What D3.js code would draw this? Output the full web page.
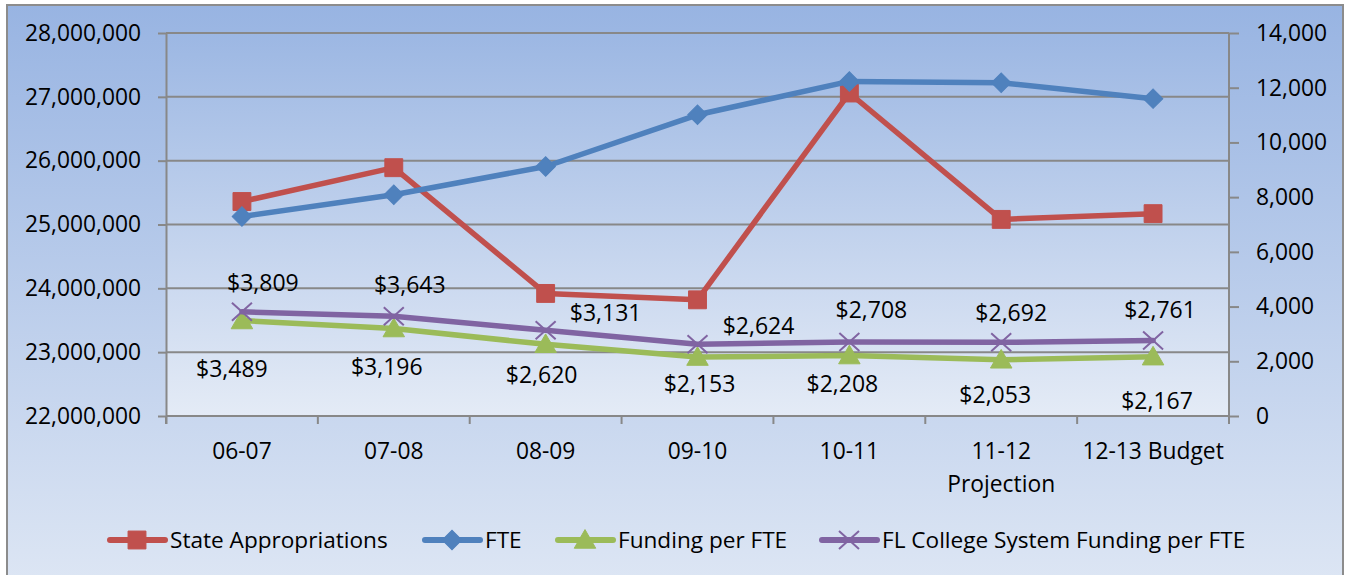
<!DOCTYPE html>
<html>
<head>
<meta charset="utf-8">
<script src="https://d3js.org/d3.v7.min.js"></script>
<style>
  body { margin: 0; background: #fff; }
  svg text { font-family: 'Open Sans', sans-serif; fill: #000; }
  .tick text { font-size: 22.8px; }
  .lbl { font-size: 23px; }
  .leg { font-size: 22.6px; }
</style>
</head>
<body>
<svg id="chart" width="1347" height="575"></svg>
<script>
// --- data ---
const years = ["06-07", "07-08", "08-09", "09-10", "10-11", "11-12 Projection", "12-13 Budget"];
const stateAppropriations = [25360000, 25890000, 23920000, 23820000, 27060000, 25080000, 25170000];
const fte = [7290, 8090, 9120, 11010, 12230, 12180, 11600];
const fundingPerFte = [3489, 3196, 2620, 2153, 2208, 2053, 2167];
const flCollegeFundingPerFte = [3809, 3643, 3131, 2624, 2708, 2692, 2761];
const leftTicks = [22000000, 23000000, 24000000, 25000000, 26000000, 27000000, 28000000];
const rightTicks = [0, 2000, 4000, 6000, 8000, 10000, 12000, 14000];

// label nudges (px) relative to the point, as placed in the original
const flNudge = [[21, -29], [16, -32], [60, -18], [61, -18], [22, -32], [10, -30], [7, -31]];
const fundNudge = [[-10, 48], [-7, 38], [-4, 30], [2, 27], [-7, 28], [-6, 35], [4, 44]];

const svg = d3.select("#chart");
const margin = { top: 33, right: 118, bottom: 159, left: 166 };
const W = 1347, H = 575;
const x0 = margin.left, x1 = W - margin.right, y0 = margin.top, y1 = H - margin.bottom;

const defs = svg.append("defs");
const g1 = defs.append("linearGradient").attr("id", "bgOuter").attr("x1", 0).attr("y1", 0).attr("x2", 0).attr("y2", 1);
g1.append("stop").attr("offset", "0%").attr("stop-color", "#98b4e2");
g1.append("stop").attr("offset", "100%").attr("stop-color", "#dde6f4");
const g2 = defs.append("linearGradient").attr("id", "bgPlot").attr("x1", 0).attr("y1", 0).attr("x2", 0).attr("y2", 1);
g2.append("stop").attr("offset", "0%").attr("stop-color", "#9cb7e3");
g2.append("stop").attr("offset", "100%").attr("stop-color", "#e4ebf6");

svg.append("rect").attr("x", 7).attr("y", 5).attr("width", 1336).attr("height", 580)
  .attr("fill", "url(#bgOuter)").attr("stroke", "#8c8c8c").attr("stroke-width", 2);
svg.append("rect").attr("x", x0).attr("y", y0).attr("width", x1 - x0).attr("height", y1 - y0)
  .attr("fill", "url(#bgPlot)");

const x = d3.scaleBand().domain(years).range([x0, x1]);
const cx = d => x(d) + x.bandwidth() / 2;
const yL = d3.scaleLinear().domain([22000000, 28000000]).range([y1, y0]);
const yR = d3.scaleLinear().domain([0, 14000]).range([y1, y0]);

const gridColor = "#888888";

// gridlines
svg.append("g").selectAll("line").data(leftTicks.slice(1)).join("line")
  .attr("x1", x0).attr("x2", x1).attr("y1", d => yL(d)).attr("y2", d => yL(d))
  .attr("stroke", gridColor).attr("stroke-width", 2);

// left axis
const axL = svg.append("g").attr("transform", `translate(${x0},0)`)
  .call(d3.axisLeft(yL).tickValues(leftTicks).tickFormat(d3.format(",")).tickSize(8).tickPadding(17));
// right axis
const axR = svg.append("g").attr("transform", `translate(${x1},0)`)
  .call(d3.axisRight(yR).tickValues(rightTicks).tickFormat(d3.format(",")).tickSize(10).tickPadding(17));
// bottom axis (labels at band centres, ticks on boundaries)
const axB = svg.append("g").attr("transform", `translate(0,${y1})`)
  .call(d3.axisBottom(x).tickSize(0).tickPadding(27));
axB.selectAll(".tick text").each(function(d) {
  const t = d3.select(this);
  const m = d.match(/^(\d\d-\d\d) Projection$/);
  if (m) {
    t.text(null);
    t.append("tspan").attr("x", 0).attr("dy", "0.71em").text(m[1]);
    t.append("tspan").attr("x", 0).attr("dy", "1.42em").text("Projection");
    t.attr("dy", null);
  }
});
axB.append("g").selectAll("line").data(years.map(d => x(d)).concat([x1])).join("line")
  .attr("x1", d => d).attr("x2", d => d).attr("y1", 0).attr("y2", 8)
  .attr("stroke", gridColor).attr("stroke-width", 2);

[axL, axR, axB].forEach(a => {
  a.selectAll(".domain").attr("stroke", gridColor).attr("stroke-width", 2);
  a.selectAll(".tick line").attr("stroke", gridColor).attr("stroke-width", 2);
  a.selectAll(".tick text").attr("fill", "#000");
});
axL.select(".domain").attr("d", `M0.5,${y0}V${y1 + 8}`);
axR.select(".domain").attr("d", `M0,${y0}V${y1 + 8}`);
axB.select(".domain").attr("d", `M${x0},0H${x1}`);

// markers
const markers = {
  square: g => g.append("path").attr("d", d3.symbol(d3.symbolSquare, 320)()),
  diamond: g => g.append("path").attr("d", d3.symbol(d3.symbolSquare, 190)()).attr("transform", "rotate(45)"),
  triangle: g => g.append("path").attr("d", d3.symbol(d3.symbolTriangle, 200)()).attr("transform", "translate(0,2)"),
  cross: g => g.append("path").attr("d", "M-10,-9L10,9M-10,9L10,-9").attr("fill", "none").attr("stroke-width", 2)
};

const series = [
  { name: "State Appropriations", values: stateAppropriations, y: yL, color: "#c0504d", marker: "square" },
  { name: "FTE", values: fte, y: yR, color: "#4f81bd", marker: "diamond" },
  { name: "Funding per FTE", values: fundingPerFte, y: yR, color: "#9bbb59", marker: "triangle" },
  { name: "FL College System Funding per FTE", values: flCollegeFundingPerFte, y: yR, color: "#8064a2", marker: "cross" }
];

series.forEach(s => {
  const line = d3.line().x((d, i) => cx(years[i])).y(d => s.y(d));
  svg.append("path").datum(s.values).attr("d", line)
    .attr("fill", "none").attr("stroke", s.color).attr("stroke-width", 5.5)
    .attr("stroke-linejoin", "round").attr("stroke-linecap", "round");
  s.values.forEach((v, i) => {
    const g = svg.append("g").attr("transform", `translate(${cx(years[i])},${s.y(v)})`)
      .attr("fill", s.color).attr("stroke", s.color);
    markers[s.marker](g);
  });
});

// data labels
const money = v => "$" + d3.format(",")(v);
svg.append("g").selectAll("text").data(flCollegeFundingPerFte).join("text").attr("class", "lbl")
  .attr("text-anchor", "middle").attr("dy", "0.36em")
  .attr("x", (d, i) => cx(years[i]) + flNudge[i][0]).attr("y", (d, i) => yR(d) + flNudge[i][1])
  .text(money);
svg.append("g").selectAll("text").data(fundingPerFte).join("text").attr("class", "lbl")
  .attr("text-anchor", "middle").attr("dy", "0.36em")
  .attr("x", (d, i) => cx(years[i]) + fundNudge[i][0]).attr("y", (d, i) => yR(d) + fundNudge[i][1])
  .text(money);

// legend
const legendX = [110, 425, 558, 822];
const legY = 540;
series.forEach((s, i) => {
  const g = svg.append("g").attr("transform", `translate(${legendX[i]},${legY})`);
  g.append("line").attr("x1", 0).attr("x2", 55).attr("stroke", s.color).attr("stroke-width", 6)
    .attr("stroke-linecap", "round");
  const m = g.append("g").attr("transform", "translate(27,0)").attr("fill", s.color).attr("stroke", s.color);
  markers[s.marker](m);
  g.append("text").attr("class", "leg").attr("x", 60).attr("dy", "0.36em").text(s.name);
});
</script>
</body>
</html>
